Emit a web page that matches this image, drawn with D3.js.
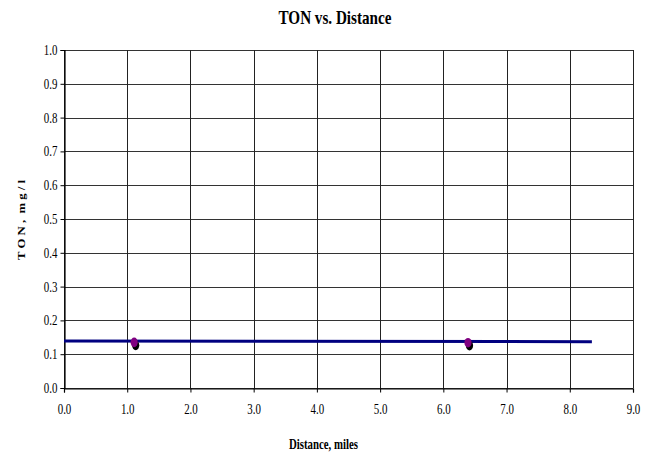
<!DOCTYPE html>
<html>
<head>
<meta charset="utf-8">
<script src="https://cdn.jsdelivr.net/npm/d3@7"></script>
<style>
  body { margin: 0; background: #fff; }
  svg text { font-family: "Liberation Serif", "Times New Roman", Times, serif; }
</style>
</head>
<body>
<div id="chart"></div>
<script>
const titleText = 'TON vs. Distance';
const xTitle = 'Distance, miles';
const yTitle = 'T O N ,  m g / l';

// measured points
const pointDistance = [1.11, 6.39];
const pointTon = [0.135, 0.134];

// trend line ends
const lineDistance = [0, 8.35];
const lineTon = [0.139, 0.137];

const xTicks = [0, 1, 2, 3, 4, 5, 6, 7, 8, 9];
const yTicks = [0, 0.1, 0.2, 0.3, 0.4, 0.5, 0.6, 0.7, 0.8, 0.9, 1.0];

const serif = '"Liberation Serif", "Times New Roman", Times, serif';

const width = 654;
const height = 458;
const margin = {top: 50, right: 21, bottom: 70, left: 64};

const svg = d3.select('#chart')
  .append('svg')
  .attr('width', width)
  .attr('height', height)
  .attr('font-family', serif);

const xScale = d3.scaleLinear().domain([0, 9]).range([margin.left, width - margin.right]);
const yScale = d3.scaleLinear().domain([0, 1]).range([height - margin.bottom, margin.top]);

// the original picture is squeezed horizontally, so narrow the glyphs
function narrow(sel, factor) {
  sel.each(function () {
    const len = this.getComputedTextLength();
    d3.select(this)
      .attr('textLength', len * factor)
      .attr('lengthAdjust', 'spacingAndGlyphs');
  });
}

// grid
svg.append('g')
  .selectAll('line')
  .data(yTicks)
  .join('line')
  .attr('x1', xScale(0)).attr('x2', xScale(9))
  .attr('y1', d => Math.round(yScale(d)) + 0.5)
  .attr('y2', d => Math.round(yScale(d)) + 0.5)
  .attr('stroke', '#333');

svg.append('g')
  .selectAll('line')
  .data(xTicks)
  .join('line')
  .attr('x1', d => Math.round(xScale(d)) + 0.5)
  .attr('x2', d => Math.round(xScale(d)) + 0.5)
  .attr('y1', yScale(0)).attr('y2', yScale(1))
  .attr('stroke', '#222');

// axes
const xAxis = d3.axisBottom(xScale).tickValues(xTicks).tickSize(4).tickPadding(12).tickFormat(d3.format('.1f'));
const yAxis = d3.axisLeft(yScale).tickValues(yTicks).tickSize(4).tickPadding(3).tickFormat(d3.format('.1f'));

const xAxisEl = svg.append('g')
  .attr('transform', `translate(0, ${Math.round(yScale(0)) + 0.5})`)
  .call(xAxis);
const yAxisEl = svg.append('g')
  .attr('transform', `translate(${Math.round(xScale(0)) + 0.5}, 0)`)
  .call(yAxis);

[xAxisEl, yAxisEl].forEach(ax => {
  ax.attr('font-family', serif).attr('font-size', 14);
  ax.select('.domain').attr('stroke', '#000').attr('stroke-width', 1.2);
  ax.selectAll('.tick line').attr('stroke', '#000');
  ax.selectAll('text').attr('fill', '#000').call(narrow, 0.78);
});

// trend line
const line = d3.line().x(d => xScale(d[0])).y(d => yScale(d[1]));
svg.append('path')
  .datum(d3.zip(lineDistance, lineTon))
  .attr('fill', 'none')
  .attr('stroke', '#000080')
  .attr('stroke-width', 3)
  .attr('d', line);

// points with shadow
const pts = d3.zip(pointDistance, pointTon);
svg.append('g')
  .selectAll('ellipse')
  .data(pts)
  .join('ellipse')
  .attr('cx', d => xScale(d[0]) + 1.5)
  .attr('cy', d => yScale(d[1]) + 3)
  .attr('rx', 3.6)
  .attr('ry', 4.8)
  .attr('fill', '#000');
svg.append('g')
  .selectAll('ellipse')
  .data(pts)
  .join('ellipse')
  .attr('cx', d => xScale(d[0]))
  .attr('cy', d => yScale(d[1]))
  .attr('rx', 3.6)
  .attr('ry', 4.8)
  .attr('fill', '#800080');

// titles
svg.append('text')
  .attr('x', 335).attr('y', 24)
  .attr('text-anchor', 'middle')
  .attr('font-weight', 'bold')
  .attr('font-size', '19px')
  .text(titleText)
  .attr('textLength', 113)
  .attr('lengthAdjust', 'spacingAndGlyphs');

svg.append('text')
  .attr('x', 323.5).attr('y', 449)
  .attr('text-anchor', 'middle')
  .attr('font-weight', 'bold')
  .attr('font-size', '14px')
  .text(xTitle)
  .attr('textLength', 69)
  .attr('lengthAdjust', 'spacingAndGlyphs');

svg.append('text')
  .attr('transform', `translate(25, 220) rotate(-90) scale(1, 0.8)`)
  .attr('text-anchor', 'middle')
  .attr('font-weight', 'bold')
  .attr('font-size', '14px')
  .style('white-space', 'pre')
  .text(yTitle)
  .attr('textLength', 80)
  .attr('lengthAdjust', 'spacingAndGlyphs');
</script>
</body>
</html>
